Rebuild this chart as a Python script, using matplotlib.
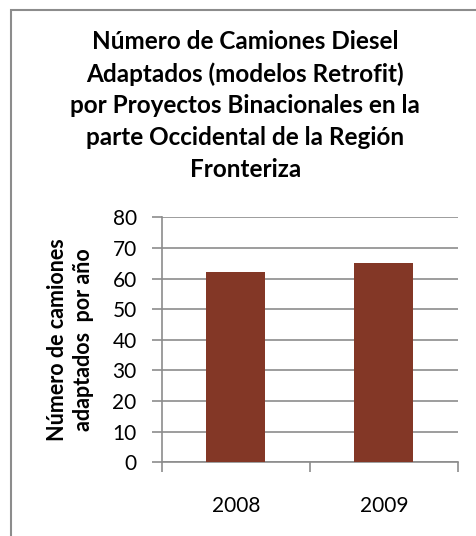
import numpy as np
import matplotlib
matplotlib.use('Agg')
import matplotlib.pyplot as plt
from matplotlib.patches import Rectangle

#%% data
years = ['2008', '2009']
camiones = [62, 65]
yticks = [0, 10, 20, 30, 40, 50, 60, 70, 80]

titulo = ('Número de Camiones Diesel\nAdaptados (modelos Retrofit)\n'
          'por Proyectos Binacionales en la\nparte Occidental de la Región\nFronteriza')
ylab = 'Número de camiones\nadaptados  por año'

#%% plot
plt.rcParams['font.family'] = ['Lato', 'DejaVu Sans']

fig = plt.figure(figsize=(4.77, 5.36), dpi=100)
fig.patches.append(Rectangle((11/477, -0.1), 1.2, 1 - 10/536 + 0.1, transform=fig.transFigure,
                             fill=False, edgecolor='#8c8c8c', linewidth=1.5))

ax = fig.add_axes([0.339, 0.1375, 0.621, 0.457])
x = np.arange(len(years))
ax.bar(x, camiones, width=0.4, color='#833726', zorder=3)
ax.set_xlim(-0.5, 1.5)
ax.set_ylim(0, 80)
ax.set_yticks(yticks)
ax.set_xticks([-0.5, 0.5, 1.5], minor=False)
ax.set_xticklabels([])
ax.set_xticks(x, minor=True)
ax.set_xticklabels(years, minor=True, fontsize=15)
ax.tick_params(axis='x', which='minor', length=0, pad=24)
ax.tick_params(axis='x', which='major', length=7, color='#8c8c8c', width=1.2)
ax.tick_params(axis='y', length=7, color='#8c8c8c', width=1.2, labelsize=15, pad=11)
ax.grid(axis='y', color='#8c8c8c', linewidth=1.2, zorder=0)
for s in ['top', 'right']:
    ax.spines[s].set_visible(False)
for s in ['left', 'bottom']:
    ax.spines[s].set_color('#8c8c8c')
    ax.spines[s].set_linewidth(1.2)
ax.set_ylabel(ylab, fontsize=15.5, fontweight='bold', labelpad=13, linespacing=1.3)

fig.text(0.514, 1 - 30/536, titulo, ha='center', va='top', fontsize=17.5,
         fontweight='bold', linespacing=1.46)

fig.savefig('out.png', dpi=100)
